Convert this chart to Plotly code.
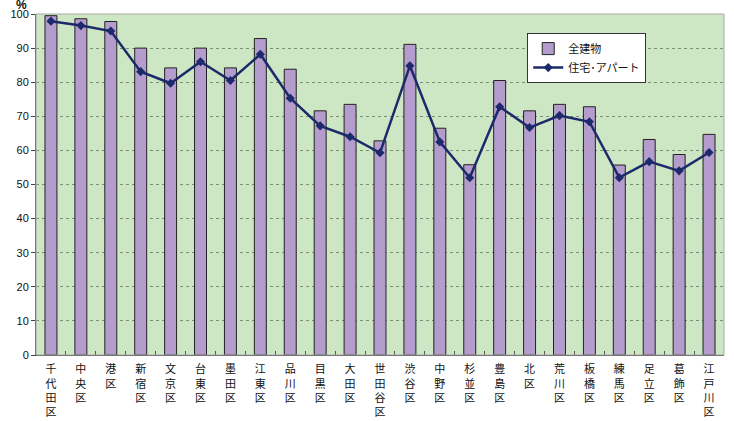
import plotly.graph_objects as go

wards = ["千代田区", "中央区", "港区", "新宿区", "文京区", "台東区", "墨田区", "江東区",
         "品川区", "目黒区", "大田区", "世田谷区", "渋谷区", "中野区", "杉並区", "豊島区",
         "北区", "荒川区", "板橋区", "練馬区", "足立区", "葛飾区", "江戸川区"]
all_buildings = [99.5, 98.6, 97.8, 90.0, 84.2, 90.0, 84.2, 92.8, 83.8, 71.6, 73.5, 62.8,
                 91.1, 66.5, 55.8, 80.5, 71.6, 73.5, 72.8, 55.7, 63.2, 58.8, 64.7]
housing = [97.9, 96.6, 95.0, 83.1, 79.7, 86.0, 80.5, 88.2, 75.3, 67.2, 64.0, 59.3,
           84.8, 62.5, 52.0, 72.8, 66.7, 70.2, 68.4, 52.0, 56.7, 54.0, 59.4]
y_ticks = list(range(0, 101, 10))

labels = ["<br>".join(list(w)) for w in wards]

fig = go.Figure()
fig.add_trace(go.Bar(
    x=labels, y=all_buildings, name="全建物",
    marker=dict(color="#b49dcc", line=dict(color="#222222", width=1)),
    width=0.4,
))
fig.add_trace(go.Scatter(
    x=labels, y=housing, name="住宅･アパート", mode="lines+markers",
    line=dict(color="#1c2a6b", width=2.5),
    marker=dict(symbol="diamond", size=7, color="#1c2a6b"),
))

fig.update_layout(
    width=734, height=421,
    margin=dict(l=36, r=10, t=14, b=66, autoexpand=False),
    paper_bgcolor="white",
    plot_bgcolor="#cde6c3",
    font=dict(family="Noto Sans CJK JP, Liberation Sans, sans-serif", size=11, color="#111111"),
    showlegend=True,
    legend=dict(
        x=0.714, y=0.944, xanchor="left", yanchor="top",
        bgcolor="white", bordercolor="#333333", borderwidth=1,
        font=dict(size=11, family="Noto Sans CJK JP"),
        traceorder="normal", tracegroupgap=4, itemwidth=30,
    ),
)
fig.update_xaxes(
    type="category", range=[-0.5, len(wards) - 0.5], autorange=False,
    tickson="boundaries", ticks="inside", ticklen=4,
    tickcolor="#555555", showgrid=False, automargin=False,
    showline=True, linecolor="#444444", linewidth=1,
    tickfont=dict(size=11, family="Noto Sans CJK JP", color="#111111"),
    tickangle=0, ticklabelstandoff=4,
)
fig.update_yaxes(
    range=[0, 100], tickvals=y_ticks, ticks="outside", ticklen=4, tickcolor="#444444",
    showgrid=True, gridcolor="#7a8f74", griddash="dot", gridwidth=1, automargin=False,
    showline=True, linecolor="#444444", linewidth=1,
    tickfont=dict(size=11, family="Liberation Sans", color="#111111"),
    zeroline=False,
)
fig.add_shape(type="rect", xref="paper", yref="paper", x0=0, y0=0, x1=1, y1=1,
              line=dict(color="#aaaaaa", width=1), layer="above")
fig.add_annotation(text="<b>%</b>", xref="paper", yref="paper", x=-0.01, y=1.0,
                   xanchor="right", yanchor="middle", showarrow=False,
                   font=dict(size=12, family="Liberation Sans", color="#111111"), yshift=9)

fig.write_html("out.html", config={"displayModeBar": False},
               post_script="document.body.style.margin='0';")
